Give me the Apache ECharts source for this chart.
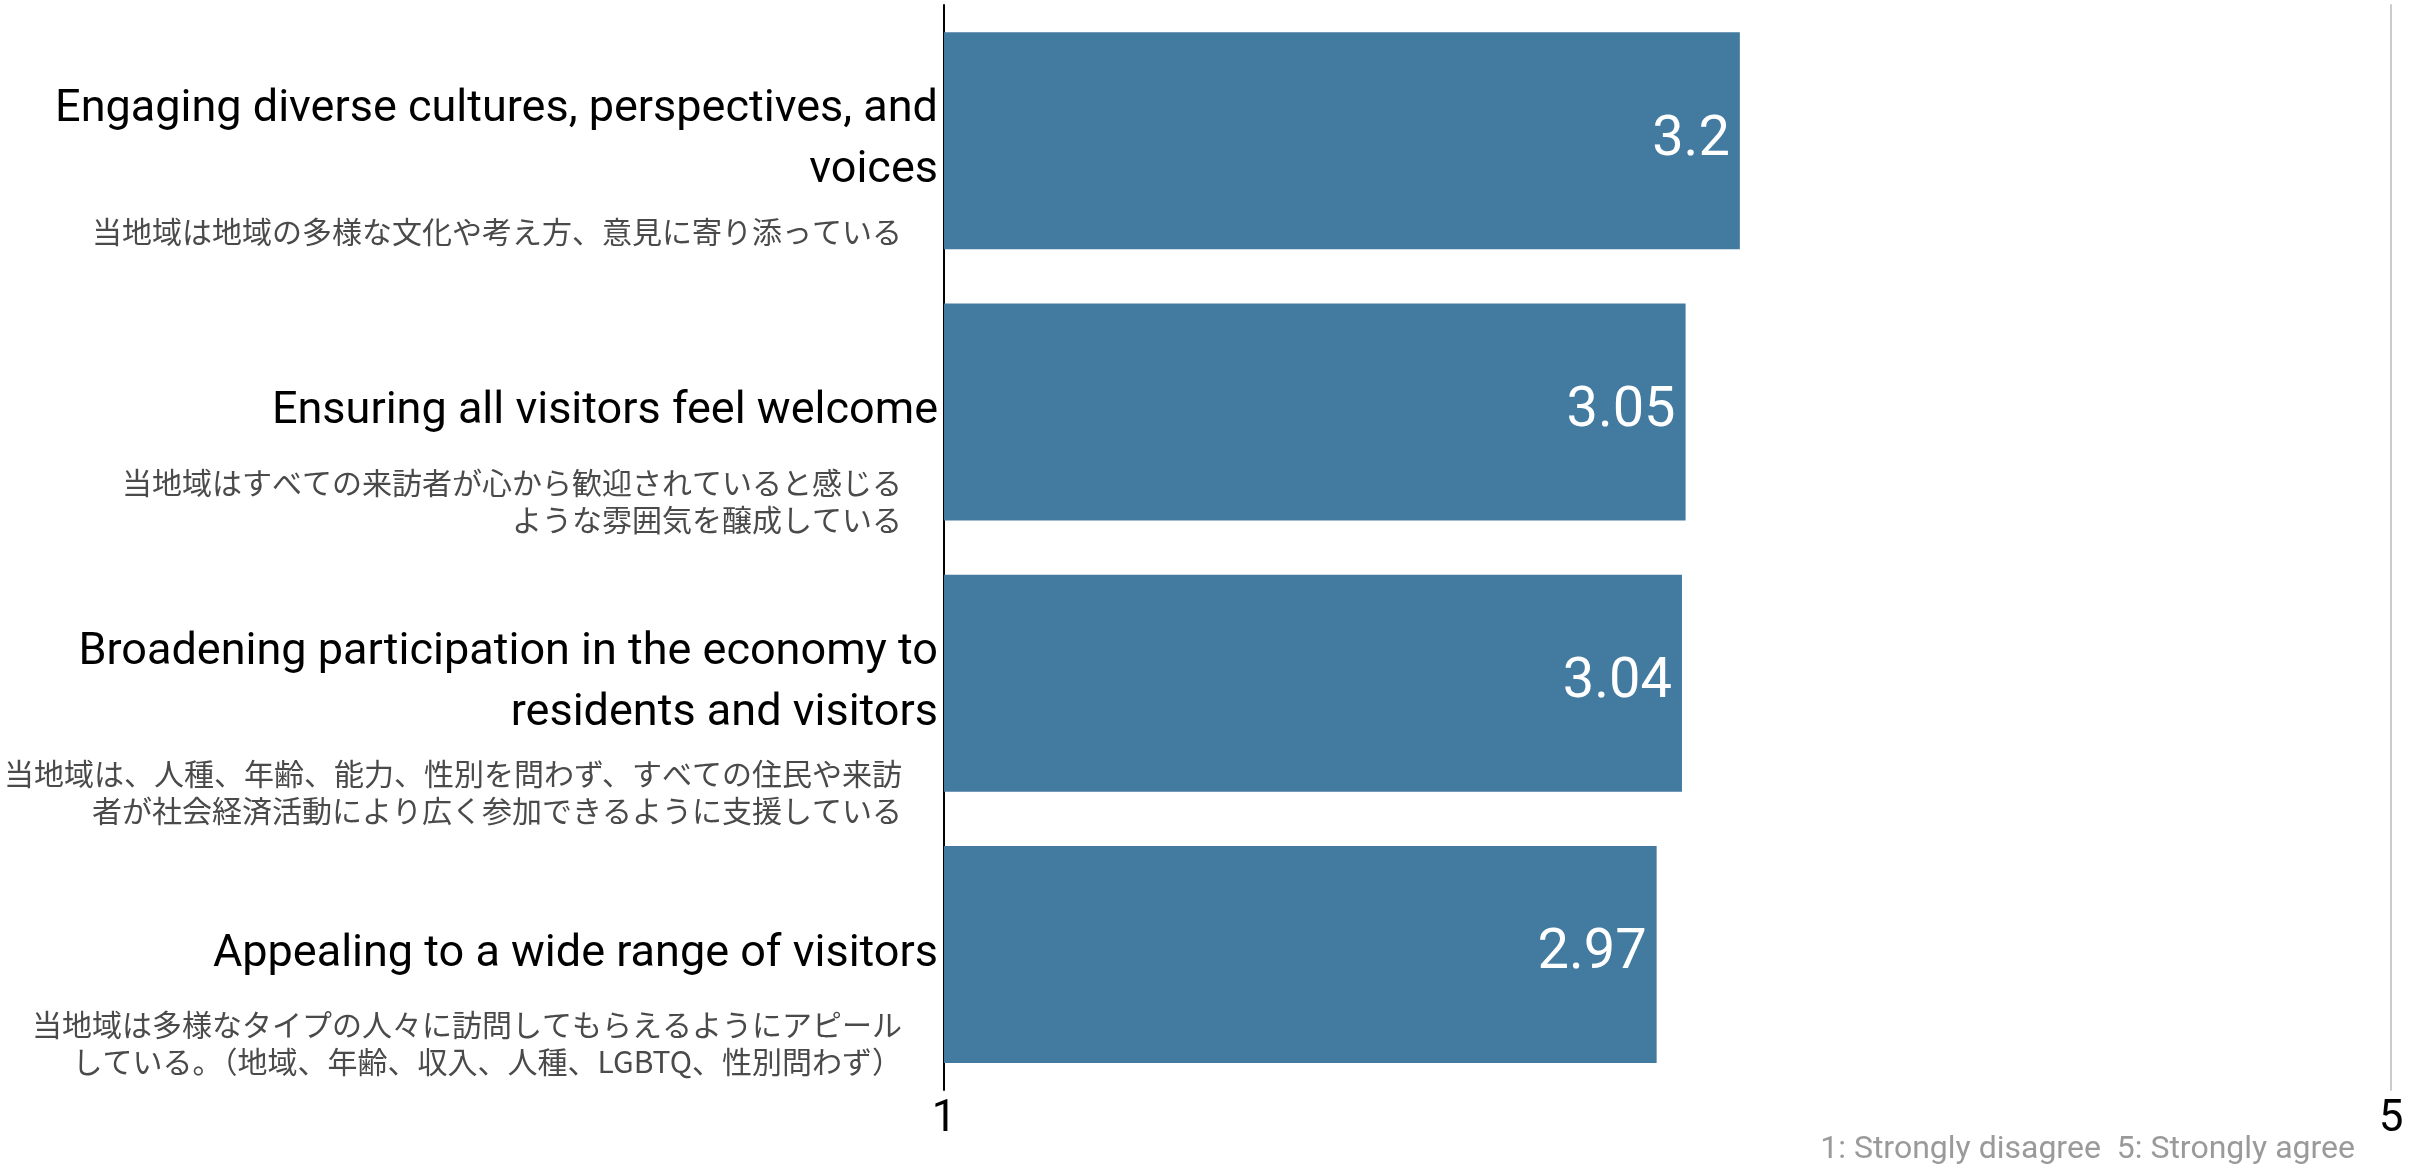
<!DOCTYPE html>
<html>
<head>
<meta charset="utf-8">
<title>Inclusion scores</title>
<script src="https://cdn.jsdelivr.net/npm/echarts@6/dist/echarts.min.js"></script>
<style>
  html, body { margin: 0; padding: 0; background: #fff; }
  #main { width: 2418px; height: 1166px; }
</style>
</head>
<body>
<div id="main"></div>
<script>
// categories, top to bottom
const enLabels = [
  'Engaging diverse cultures, perspectives, and\nvoices',
  'Ensuring all visitors feel welcome',
  'Broadening participation in the economy to\nresidents and visitors',
  'Appealing to a wide range of visitors'
]
const jaLabels = [
  '当地域は地域の多様な文化や考え方、意見に寄り添っている',
  '当地域はすべての来訪者が心から歓迎されていると感じる\nような雰囲気を醸成している',
  '当地域は、人種、年齢、能力、性別を問わず、すべての住民や来訪\n者が社会経済活動により広く参加できるように支援している',
  '当地域は多様なタイプの人々に訪問してもらえるようにアピール\nしている。（地域、年齢、収入、人種、LGBTQ、性別問わず）'
]
const scores = [3.2, 3.05, 3.04, 2.97]
const scaleMin = 1
const scaleMax = 5
const note = '1: Strongly disagree  5: Strongly agree'

const chart = echarts.init(document.getElementById('main'))

// the japanese text sits under the english one; a blank spacer line on top
// pushes it down (label block is centred on the tick)
const jaLineHeight = 37
const jaRich = {
  ja: {
    fontSize: 30,
    lineHeight: jaLineHeight,
    color: '#4a4a4a',
    align: 'right',
    fontFamily: '"Noto Sans CJK JP", sans-serif'
  }
}
jaLabels.forEach((t, i) => {
  const enLines = enLabels[i].split('\n').length
  const jaLines = t.split('\n').length
  const gapTop = enLines > 1 ? 72 : 52
  jaRich['sp' + i] = {
    fontSize: 1,
    lineHeight: 2 * gapTop + jaLines * jaLineHeight
  }
})

const option = {
  animation: false,
  textStyle: {
    fontFamily: 'Roboto, "Noto Sans CJK JP", sans-serif'
  },
  title: {
    text: note,
    right: 58,
    top: 1129,
    textStyle: {
      fontSize: 32,
      fontWeight: 'normal',
      color: '#9a9a9a'
    }
  },
  grid: {
    left: 944,
    right: 27,
    top: 5,
    bottom: 76,
    containLabel: false,
    outerBoundsMode: 'none'
  },
  xAxis: {
    type: 'value',
    min: scaleMin,
    max: scaleMax,
    interval: scaleMax - scaleMin,
    axisLine: { show: false },
    axisTick: { show: false },
    splitLine: { show: false },
    axisLabel: {
      fontSize: 44,
      color: '#000',
      margin: 8
    }
  },
  yAxis: [
    {
      type: 'category',
      inverse: true,
      data: enLabels,
      axisLine: {
        show: true,
        lineStyle: { color: '#000', width: 2 }
      },
      axisTick: { show: false },
      axisLabel: {
        fontSize: 45,
        lineHeight: 61,
        color: '#000',
        margin: 6,
        align: 'right',
        padding: [8, 0, 0, 0]
      }
    },
    {
      type: 'category',
      inverse: true,
      position: 'left',
      data: jaLabels,
      axisLine: { show: false },
      axisTick: { show: false },
      axisLabel: {
        margin: 42,
        align: 'right',
        formatter: function(value, index) {
          const lines = value.split('\n').map(l => '{ja|' + l + '}')
          return '{sp' + index + '| }\n' + lines.join('\n')
        },
        rich: jaRich
      }
    },
    {
      type: 'category',
      inverse: true,
      position: 'right',
      data: enLabels,
      axisLine: {
        show: true,
        lineStyle: { color: '#cccccc', width: 2 }
      },
      axisTick: { show: false },
      axisLabel: { show: false }
    }
  ],
  series: [
    {
      type: 'bar',
      yAxisIndex: 0,
      data: scores,
      barCategoryGap: '20%',
      itemStyle: {
        color: '#437aa0'
      },
      label: {
        show: true,
        position: 'insideRight',
        distance: 10,
        color: '#fff',
        fontSize: 56
      }
    }
  ]
}
chart.setOption(option)
</script>
</body>
</html>
